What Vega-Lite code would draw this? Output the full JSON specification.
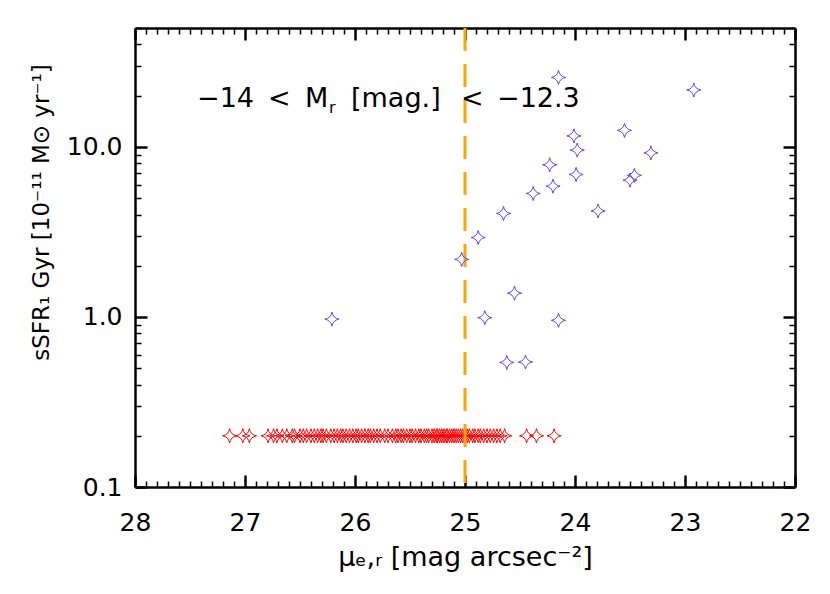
{
  "$schema": "https://vega.github.io/schema/vega-lite/v6.json",
  "autosize": {"type": "none"},
  "width": 660,
  "height": 459,
  "padding": {"left": 135, "top": 28, "right": 35, "bottom": 107},
  "background": "white",
  "config": {
    "view": {"stroke": null},
    "font": "DejaVu Sans",
    "axis": {
      "domainColor": "black", "domainWidth": 2.5, "tickColor": "black",
      "labelColor": "black", "titleColor": "black",
      "labelFont": "DejaVu Sans", "titleFont": "DejaVu Sans",
      "labelFontSize": 25, "titleFontSize": 27, "titleFontWeight": "normal",
      "grid": false, "labelOverlap": false, "labelBound": false, "labelFlush": false
    },
    "text": {"font": "DejaVu Sans", "fontSize": 27, "color": "black", "align": "left", "baseline": "alphabetic"}
  },
  "datasets": {
    "red": [
      {"mu": 27.14, "ssfr": 0.2}, {"mu": 27.02, "ssfr": 0.2}, {"mu": 26.96, "ssfr": 0.2},
      {"mu": 26.79, "ssfr": 0.2}, {"mu": 26.74, "ssfr": 0.2}, {"mu": 26.71, "ssfr": 0.2}, {"mu": 26.66, "ssfr": 0.2},
      {"mu": 26.62, "ssfr": 0.2}, {"mu": 26.57, "ssfr": 0.2}, {"mu": 26.55, "ssfr": 0.2}, {"mu": 26.50, "ssfr": 0.2},
      {"mu": 26.47, "ssfr": 0.2}, {"mu": 26.44, "ssfr": 0.2}, {"mu": 26.40, "ssfr": 0.2}, {"mu": 26.37, "ssfr": 0.2},
      {"mu": 26.34, "ssfr": 0.2}, {"mu": 26.31, "ssfr": 0.2}, {"mu": 26.29, "ssfr": 0.2}, {"mu": 26.26, "ssfr": 0.2},
      {"mu": 26.22, "ssfr": 0.2}, {"mu": 26.19, "ssfr": 0.2}, {"mu": 26.16, "ssfr": 0.2}, {"mu": 26.13, "ssfr": 0.2},
      {"mu": 26.11, "ssfr": 0.2}, {"mu": 26.08, "ssfr": 0.2}, {"mu": 26.05, "ssfr": 0.2}, {"mu": 26.02, "ssfr": 0.2},
      {"mu": 25.99, "ssfr": 0.2}, {"mu": 25.97, "ssfr": 0.2}, {"mu": 25.94, "ssfr": 0.2}, {"mu": 25.91, "ssfr": 0.2},
      {"mu": 25.88, "ssfr": 0.2}, {"mu": 25.86, "ssfr": 0.2}, {"mu": 25.83, "ssfr": 0.2}, {"mu": 25.80, "ssfr": 0.2},
      {"mu": 25.77, "ssfr": 0.2}, {"mu": 25.73, "ssfr": 0.2}, {"mu": 25.70, "ssfr": 0.2}, {"mu": 25.66, "ssfr": 0.2},
      {"mu": 25.63, "ssfr": 0.2}, {"mu": 25.61, "ssfr": 0.2}, {"mu": 25.58, "ssfr": 0.2}, {"mu": 25.56, "ssfr": 0.2},
      {"mu": 25.53, "ssfr": 0.2}, {"mu": 25.50, "ssfr": 0.2}, {"mu": 25.48, "ssfr": 0.2}, {"mu": 25.45, "ssfr": 0.2},
      {"mu": 25.42, "ssfr": 0.2}, {"mu": 25.40, "ssfr": 0.2}, {"mu": 25.37, "ssfr": 0.2}, {"mu": 25.35, "ssfr": 0.2},
      {"mu": 25.33, "ssfr": 0.2}, {"mu": 25.30, "ssfr": 0.2}, {"mu": 25.28, "ssfr": 0.2}, {"mu": 25.26, "ssfr": 0.2},
      {"mu": 25.25, "ssfr": 0.2}, {"mu": 25.23, "ssfr": 0.2}, {"mu": 25.21, "ssfr": 0.2}, {"mu": 25.19, "ssfr": 0.2},
      {"mu": 25.17, "ssfr": 0.2}, {"mu": 25.16, "ssfr": 0.2}, {"mu": 25.14, "ssfr": 0.2}, {"mu": 25.12, "ssfr": 0.2},
      {"mu": 25.10, "ssfr": 0.2}, {"mu": 25.08, "ssfr": 0.2}, {"mu": 25.06, "ssfr": 0.2}, {"mu": 25.04, "ssfr": 0.2},
      {"mu": 25.02, "ssfr": 0.2}, {"mu": 25.00, "ssfr": 0.2}, {"mu": 24.98, "ssfr": 0.2}, {"mu": 24.96, "ssfr": 0.2},
      {"mu": 24.93, "ssfr": 0.2}, {"mu": 24.91, "ssfr": 0.2}, {"mu": 24.88, "ssfr": 0.2}, {"mu": 24.86, "ssfr": 0.2},
      {"mu": 24.83, "ssfr": 0.2}, {"mu": 24.80, "ssfr": 0.2}, {"mu": 24.77, "ssfr": 0.2}, {"mu": 24.74, "ssfr": 0.2},
      {"mu": 24.71, "ssfr": 0.2}, {"mu": 24.68, "ssfr": 0.2}, {"mu": 24.64, "ssfr": 0.2},
      {"mu": 24.44, "ssfr": 0.2}, {"mu": 24.35, "ssfr": 0.2}, {"mu": 24.19, "ssfr": 0.2}
    ],
    "blue": [
      {"mu": 24.15, "ssfr": 25.6}, {"mu": 22.92, "ssfr": 21.6}, {"mu": 23.55, "ssfr": 12.5},
      {"mu": 24.01, "ssfr": 11.6}, {"mu": 23.98, "ssfr": 9.57}, {"mu": 23.31, "ssfr": 9.22},
      {"mu": 24.23, "ssfr": 7.84}, {"mu": 23.99, "ssfr": 6.88}, {"mu": 23.46, "ssfr": 6.8},
      {"mu": 23.50, "ssfr": 6.37}, {"mu": 24.20, "ssfr": 5.87}, {"mu": 24.38, "ssfr": 5.32},
      {"mu": 24.65, "ssfr": 4.06}, {"mu": 23.79, "ssfr": 4.2}, {"mu": 24.88, "ssfr": 2.93},
      {"mu": 25.03, "ssfr": 2.18}, {"mu": 24.55, "ssfr": 1.38}, {"mu": 24.82, "ssfr": 0.99},
      {"mu": 24.15, "ssfr": 0.955}, {"mu": 24.62, "ssfr": 0.54}, {"mu": 24.45, "ssfr": 0.543},
      {"mu": 26.21, "ssfr": 0.97}
    ]
  },
  "layer": [
    {
      "data": {"name": "red"},
      "mark": {"type": "point", "shape": "M0,-1 Q0.15,-0.15 1,0 Q0.15,0.15 0,1 Q-0.15,0.15 -1,0 Q-0.15,-0.15 0,-1 Z", "size": 200, "filled": false, "stroke": "#ff0000", "strokeWidth": 1, "opacity": 1},
      "encoding": {
        "x": {"field": "mu", "type": "quantitative",
          "scale": {"domain": [22, 28], "reverse": true, "nice": false, "zero": false},
          "axis": {"orient": "bottom", "title": "μₑ,ᵣ [mag arcsec⁻²]", "titlePadding": 3,
            "values": [22,22.1,22.2,22.3,22.4,22.5,22.6,22.7,22.8,22.9,23,23.1,23.2,23.3,23.4,23.5,23.6,23.7,23.8,23.9,24,24.1,24.2,24.3,24.4,24.5,24.6,24.7,24.8,24.9,25,25.1,25.2,25.3,25.4,25.5,25.6,25.7,25.8,25.9,26,26.1,26.2,26.3,26.4,26.5,26.6,26.7,26.8,26.9,27,27.1,27.2,27.3,27.4,27.5,27.6,27.7,27.8,27.9,28],
            "labelExpr": "abs(datum.value-round(datum.value))<0.01 ? format(datum.value,'d') : ''",
            "tickSize": {"condition": {"test": "abs(datum.value-round(datum.value))<0.01", "value": -12}, "value": -6},
            "tickWidth": {"condition": {"test": "abs(datum.value-round(datum.value))<0.01", "value": 2.5}, "value": 1.5},
            "labelPadding": 35}},
        "y": {"field": "ssfr", "type": "quantitative",
          "scale": {"type": "log", "domain": [0.1, 50], "nice": false},
          "axis": {"orient": "left", "title": "sSFR₁ Gyr [10⁻¹¹ M⊙ yr⁻¹]", "titleFontSize": 23, "titlePadding": 13, "titleY": 184,
            "values": [0.1,0.2,0.3,0.4,0.5,0.6,0.7,0.8,0.9,1,2,3,4,5,6,7,8,9,10,20,30,40,50],
            "labelExpr": "datum.value==0.1 ? '0.1' : datum.value==1 ? '1.0' : datum.value==10 ? '10.0' : ''",
            "tickSize": {"condition": {"test": "datum.value==0.1||datum.value==1||datum.value==10", "value": -12}, "value": -6},
            "tickWidth": {"condition": {"test": "datum.value==0.1||datum.value==1||datum.value==10", "value": 2.5}, "value": 1.5},
            "labelPadding": 25}}
      }
    },
    {
      "data": {"values": [{}]},
      "mark": {"type": "rule", "stroke": "#ffa500", "strokeWidth": 3, "strokeDash": [23, 13]},
      "encoding": {
        "x": {"datum": 25, "type": "quantitative", "scale": {"domain": [22, 28], "reverse": true, "nice": false, "zero": false}, "axis": null}
      }
    },
    {
      "data": {"name": "blue"},
      "mark": {"type": "point", "shape": "M0,-1 Q0.15,-0.15 1,0 Q0.15,0.15 0,1 Q-0.15,0.15 -1,0 Q-0.15,-0.15 0,-1 Z", "size": 200, "filled": false, "stroke": "#5548ff", "strokeWidth": 1, "opacity": 1},
      "encoding": {
        "x": {"field": "mu", "type": "quantitative",
          "scale": {"domain": [22, 28], "reverse": true, "nice": false, "zero": false},
          "axis": {"orient": "top", "title": null, "labels": false,
            "values": [22,22.1,22.2,22.3,22.4,22.5,22.6,22.7,22.8,22.9,23,23.1,23.2,23.3,23.4,23.5,23.6,23.7,23.8,23.9,24,24.1,24.2,24.3,24.4,24.5,24.6,24.7,24.8,24.9,25,25.1,25.2,25.3,25.4,25.5,25.6,25.7,25.8,25.9,26,26.1,26.2,26.3,26.4,26.5,26.6,26.7,26.8,26.9,27,27.1,27.2,27.3,27.4,27.5,27.6,27.7,27.8,27.9,28],
            "tickSize": {"condition": {"test": "abs(datum.value-round(datum.value))<0.01", "value": -12}, "value": -6},
            "tickWidth": {"condition": {"test": "abs(datum.value-round(datum.value))<0.01", "value": 2.5}, "value": 1.5}}},
        "y": {"field": "ssfr", "type": "quantitative",
          "scale": {"type": "log", "domain": [0.1, 50], "nice": false},
          "axis": {"orient": "right", "title": null, "labels": false,
            "values": [0.1,0.2,0.3,0.4,0.5,0.6,0.7,0.8,0.9,1,2,3,4,5,6,7,8,9,10,20,30,40,50],
            "tickSize": {"condition": {"test": "datum.value==0.1||datum.value==1||datum.value==10", "value": -12}, "value": -6},
            "tickWidth": {"condition": {"test": "datum.value==0.1||datum.value==1||datum.value==10", "value": 2.5}, "value": 1.5}}}
      }
    },
    {
      "data": {"values": [{}]},
      "mark": {"type": "text", "text": "−14"},
      "encoding": {
        "x": {"datum": 27.436, "type": "quantitative", "scale": {"domain": [22, 28], "reverse": true, "nice": false, "zero": false}, "axis": null},
        "y": {"datum": 17.2, "type": "quantitative", "scale": {"type": "log", "domain": [0.1, 50], "nice": false}, "axis": null}
      }
    },
    {
      "data": {"values": [{}]},
      "mark": {"type": "text", "text": "<", "dx": 71},
      "encoding": {
        "x": {"datum": 27.436, "type": "quantitative", "scale": {"domain": [22, 28], "reverse": true, "nice": false, "zero": false}, "axis": null},
        "y": {"datum": 17.2, "type": "quantitative", "scale": {"type": "log", "domain": [0.1, 50], "nice": false}, "axis": null}
      }
    },
    {
      "data": {"values": [{}]},
      "mark": {"type": "text", "text": "M", "dx": 108},
      "encoding": {
        "x": {"datum": 27.436, "type": "quantitative", "scale": {"domain": [22, 28], "reverse": true, "nice": false, "zero": false}, "axis": null},
        "y": {"datum": 17.2, "type": "quantitative", "scale": {"type": "log", "domain": [0.1, 50], "nice": false}, "axis": null}
      }
    },
    {
      "data": {"values": [{}]},
      "mark": {"type": "text", "text": "r", "fontSize": 16, "dx": 132, "dy": 6},
      "encoding": {
        "x": {"datum": 27.436, "type": "quantitative", "scale": {"domain": [22, 28], "reverse": true, "nice": false, "zero": false}, "axis": null},
        "y": {"datum": 17.2, "type": "quantitative", "scale": {"type": "log", "domain": [0.1, 50], "nice": false}, "axis": null}
      }
    },
    {
      "data": {"values": [{}]},
      "mark": {"type": "text", "text": "[mag.]", "dx": 154},
      "encoding": {
        "x": {"datum": 27.436, "type": "quantitative", "scale": {"domain": [22, 28], "reverse": true, "nice": false, "zero": false}, "axis": null},
        "y": {"datum": 17.2, "type": "quantitative", "scale": {"type": "log", "domain": [0.1, 50], "nice": false}, "axis": null}
      }
    },
    {
      "data": {"values": [{}]},
      "mark": {"type": "text", "text": "<", "dx": 264},
      "encoding": {
        "x": {"datum": 27.436, "type": "quantitative", "scale": {"domain": [22, 28], "reverse": true, "nice": false, "zero": false}, "axis": null},
        "y": {"datum": 17.2, "type": "quantitative", "scale": {"type": "log", "domain": [0.1, 50], "nice": false}, "axis": null}
      }
    },
    {
      "data": {"values": [{}]},
      "mark": {"type": "text", "text": "−12.3", "dx": 300},
      "encoding": {
        "x": {"datum": 27.436, "type": "quantitative", "scale": {"domain": [22, 28], "reverse": true, "nice": false, "zero": false}, "axis": null},
        "y": {"datum": 17.2, "type": "quantitative", "scale": {"type": "log", "domain": [0.1, 50], "nice": false}, "axis": null}
      }
    }
  ],
  "resolve": {"axis": {"x": "independent", "y": "independent"}}
}
